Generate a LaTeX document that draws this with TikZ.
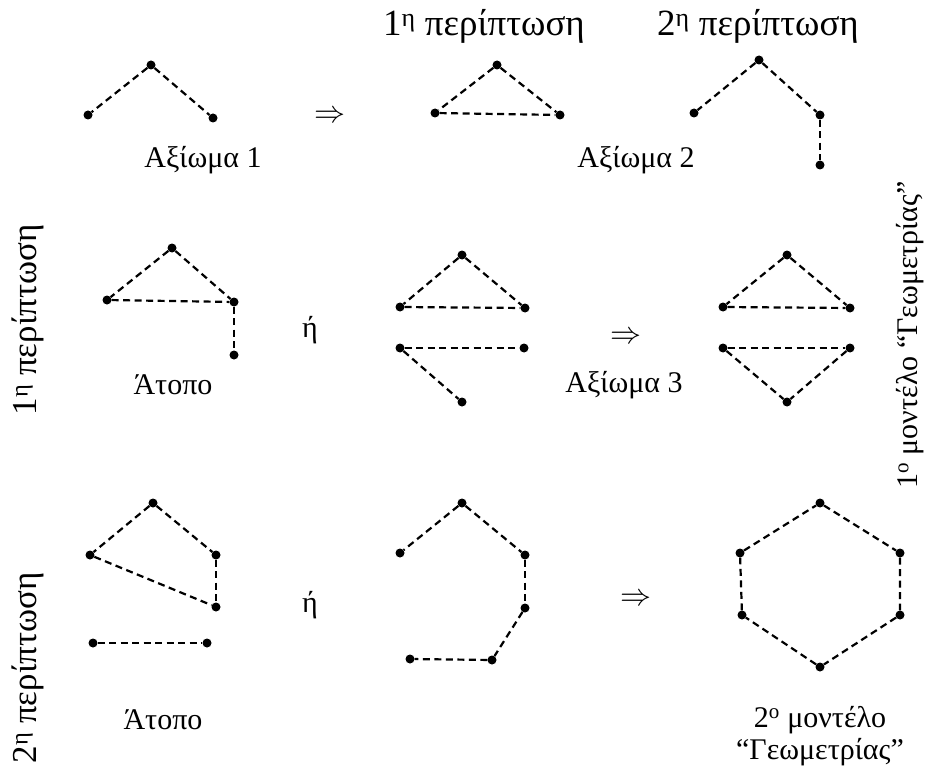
\documentclass[tikz,border=0pt]{standalone}
\usepackage{fontspec}
\setmainfont{Liberation Serif}
\usepackage{tikz}
\usetikzlibrary{positioning}

\newcommand{\bigimp}{\scalebox{3.1}{$\Rightarrow$}}

\begin{document}
\begin{tikzpicture}[
    x=1pt, y=-1pt,
    pt/.style={circle, fill=black, inner sep=0pt, minimum size=9pt},
    dline/.style={line width=2.2pt, dash pattern=on 7pt off 4.5pt},
    lbl/.style={font=\fontsize{30}{36}\selectfont},
    biglbl/.style={font=\fontsize{37}{44}\selectfont},
    sidelbl/.style={font=\fontsize{35}{42}\selectfont, rotate=90},
    imp/.style={inner sep=0pt}
]
\useasboundingbox (0,0) rectangle (927,773);

% Top row: axiom 1
\node[pt] (a1) at (151,65) {};
\node[pt] (a2) at (88,115) {};
\node[pt] (a3) at (213,118) {};
\draw[dline] (a1) -- (a2);
\draw[dline] (a1) -- (a3);
\node[lbl] (ax1) at (203,160) {Αξίωμα 1};
\node[imp] (impl1) at (330,117) {\bigimp};

% Top row: case 1
\node[biglbl] (case1) at (484,26) {1\textsuperscript{η} περίπτωση};
\node[pt] (b1) at (497,65) {};
\node[pt] (b2) at (435,113) {};
\node[pt] (b3) at (560,115) {};
\draw[dline] (b1) -- (b2);
\draw[dline] (b1) -- (b3);
\draw[dline] (b2) -- (b3);

% Top row: case 2
\node[biglbl] (case2) at (758,26) {2\textsuperscript{η} περίπτωση};
\node[pt] (c1) at (759,60) {};
\node[pt] (c2) at (694,113) {};
\node[pt] (c3) at (820,115) {};
\node[pt] (c4) at (820,165) {};
\draw[dline] (c1) -- (c2);
\draw[dline] (c1) -- (c3);
\draw[dline] (c3) -- (c4);
\node[lbl] (ax2) at (636,160) {Αξίωμα 2};

% Middle row
\node[sidelbl] (side1) at (28,320) {1\textsuperscript{η} περίπτωση};

\node[pt] (d1) at (172,248) {};
\node[pt] (d2) at (107,300) {};
\node[pt] (d3) at (234,302) {};
\node[pt] (d4) at (234,355) {};
\draw[dline] (d1) -- (d2);
\draw[dline] (d1) -- (d3);
\draw[dline] (d2) -- (d3);
\draw[dline] (d3) -- (d4);
\node[lbl] (atopo1) at (173,385) {Άτοπο};
\node[lbl] (or1) at (310,330) {ή};

\node[pt] (e1) at (462,255) {};
\node[pt] (e2) at (400,307) {};
\node[pt] (e3) at (525,308) {};
\node[pt] (e4) at (400,348) {};
\node[pt] (e5) at (524,348) {};
\node[pt] (e6) at (462,402) {};
\draw[dline] (e1) -- (e2);
\draw[dline] (e1) -- (e3);
\draw[dline] (e2) -- (e3);
\draw[dline] (e4) -- (e5);
\draw[dline] (e4) -- (e6);

\node[imp] (impl2) at (626,338) {\bigimp};
\node[lbl] (ax3) at (624,385) {Αξίωμα 3};

\node[pt] (f1) at (787,255) {};
\node[pt] (f2) at (723,307) {};
\node[pt] (f3) at (850,308) {};
\node[pt] (f4) at (723,348) {};
\node[pt] (f5) at (850,348) {};
\node[pt] (f6) at (787,402) {};
\draw[dline] (f1) -- (f2);
\draw[dline] (f1) -- (f3);
\draw[dline] (f2) -- (f3);
\draw[dline] (f4) -- (f5);
\draw[dline] (f4) -- (f6);
\draw[dline] (f5) -- (f6);

\node[lbl, rotate=90] (model1) at (910,335) {1\textsuperscript{ο} μοντέλο “Γεωμετρίας”};

% Bottom row
\node[sidelbl] (side2) at (28,668) {2\textsuperscript{η} περίπτωση};

\node[pt] (g1) at (153,503) {};
\node[pt] (g2) at (90,555) {};
\node[pt] (g3) at (216,555) {};
\node[pt] (g4) at (216,607) {};
\node[pt] (g5) at (93,643) {};
\node[pt] (g6) at (207,643) {};
\draw[dline] (g1) -- (g2);
\draw[dline] (g1) -- (g3);
\draw[dline] (g2) -- (g4);
\draw[dline] (g3) -- (g4);
\draw[dline] (g5) -- (g6);
\node[lbl] (atopo2) at (163,720) {Άτοπο};
\node[lbl] (or2) at (310,605) {ή};

\node[pt] (h1) at (462,503) {};
\node[pt] (h2) at (400,553) {};
\node[pt] (h3) at (525,555) {};
\node[pt] (h4) at (525,608) {};
\node[pt] (h5) at (492,660) {};
\node[pt] (h6) at (410,659) {};
\draw[dline] (h1) -- (h2);
\draw[dline] (h1) -- (h3);
\draw[dline] (h3) -- (h4);
\draw[dline] (h4) -- (h5);
\draw[dline] (h5) -- (h6);

\node[imp] (impl3) at (636,600) {\bigimp};

\node[pt] (k1) at (820,503) {};
\node[pt] (k2) at (900,553) {};
\node[pt] (k3) at (900,615) {};
\node[pt] (k4) at (820,667) {};
\node[pt] (k5) at (742,615) {};
\node[pt] (k6) at (740,553) {};
\draw[dline] (k1) -- (k2) -- (k3) -- (k4) -- (k5) -- (k6) -- (k1);
\node[lbl] (model2a) at (820,720) {2\textsuperscript{ο} μοντέλο};
\node[lbl] (model2b) at (820,752) {“Γεωμετρίας”};

\end{tikzpicture}
\end{document}
